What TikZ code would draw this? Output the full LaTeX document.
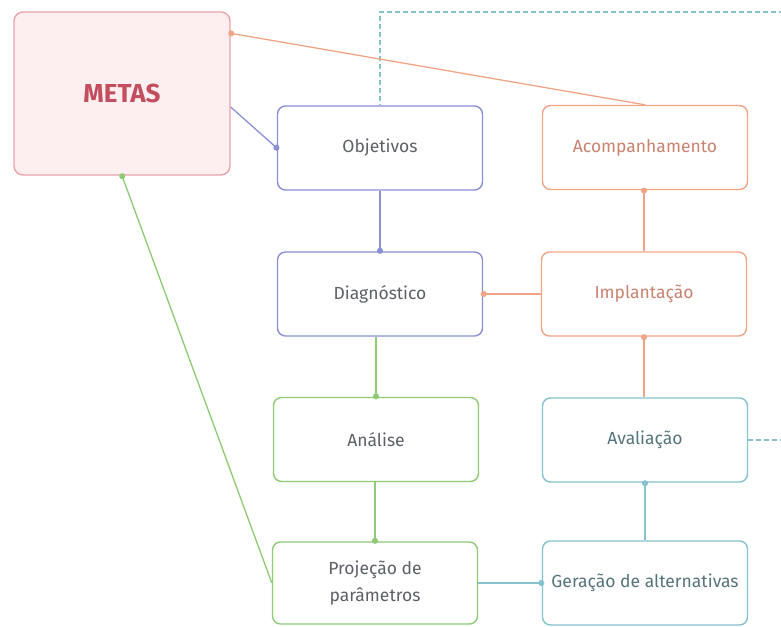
\documentclass[tikz,border=0pt]{standalone}
\usepackage{fontspec}
\setmainfont{Fira Sans}
\usetikzlibrary{arrows.meta}
\definecolor{metaborder}{HTML}{E9A3AB}
\definecolor{metafill}{HTML}{FDEEF0}
\definecolor{metatext}{HTML}{C24E5E}
\definecolor{cblue}{HTML}{8A90D6}
\definecolor{corange}{HTML}{F2A586}
\definecolor{cgreen}{HTML}{8DCC75}
\definecolor{cteal}{HTML}{86C3CE}
\definecolor{tgray}{HTML}{5E6068}
\definecolor{torange}{HTML}{C9836F}
\definecolor{tteal}{HTML}{55757C}
\tikzset{
  box/.style={draw, line width=1.4pt, rounded corners=8pt, fill=white,
    minimum width=205pt, minimum height=84pt, align=center,
    font=\fontsize{17.5}{27}\selectfont, inner sep=2pt},
  bluebox/.style={box, draw=cblue, text=tgray},
  orangebox/.style={box, draw=corange, text=torange},
  greenbox/.style={box, draw=cgreen, text=tgray},
  tealbox/.style={box, draw=cteal, text=tteal},
  conn/.style={line width=1.3pt, -{Circle[length=6pt,width=6pt]}, shorten >=-2.5pt},
}
\begin{document}
\begin{tikzpicture}[x=1pt,y=-1pt]
\clip (0,0) rectangle (781,626);
\fill[white] (0,0) rectangle (781,626);
\node[draw=metaborder, fill=metafill, line width=1.4pt, rounded corners=9pt,
  minimum width=216pt, minimum height=163pt, text=metatext,
  font=\fontsize{26}{30}\selectfont\bfseries] (metas) at (122,93.5) {METAS};
\node[bluebox] (obj) at (380,148) {Objetivos};
\node[orangebox] (acomp) at (645,147.5) {Acompanhamento};
\node[bluebox] (diag) at (380,294) {Diagnóstico};
\node[orangebox] (impl) at (644,294) {Implantação};
\node[greenbox] (anal) at (376,439.5) {Análise};
\node[tealbox] (aval) at (645,440) {Avaliação};
\node[greenbox, minimum height=82pt] (proj) at (375,583) {Projeção de\\parâmetros};
\node[tealbox] (ger) at (645,583) {Geração de alternativas};
\coordinate (dashcorner) at (800,12);
% dashed loop
\draw[cteal, line width=1.2pt, dash pattern=on 5pt off 3pt]
  (aval.east) -- (aval.east -| dashcorner) -- (dashcorner) -- (obj.north |- dashcorner) -- (obj.north);
% connectors
\draw[conn, cblue] ([yshift=-13.5pt]metas.east) -- (obj.west);
\draw[conn, cblue] (obj.south) -- (diag.north);
\draw[conn, corange] (acomp.north) -- ([yshift=-22pt]metas.north east);
\draw[conn, corange] (impl.north) -- (impl.north |- acomp.south);
\draw[conn, corange] (impl.west) -- (impl.west -| diag.east);
\draw[conn, corange] (aval.north -| impl.south) -- (impl.south);
\draw[conn, cgreen] (anal.north |- diag.south) -- (anal.north);
\draw[conn, cgreen] (proj.north |- anal.south) -- (proj.north);
\draw[conn, cgreen] (proj.west) -- (metas.south);
\draw[conn, cteal] (proj.east) -- (ger.west);
\draw[conn, cteal] (ger.north -| aval.south) -- (aval.south);
\end{tikzpicture}
\end{document}
